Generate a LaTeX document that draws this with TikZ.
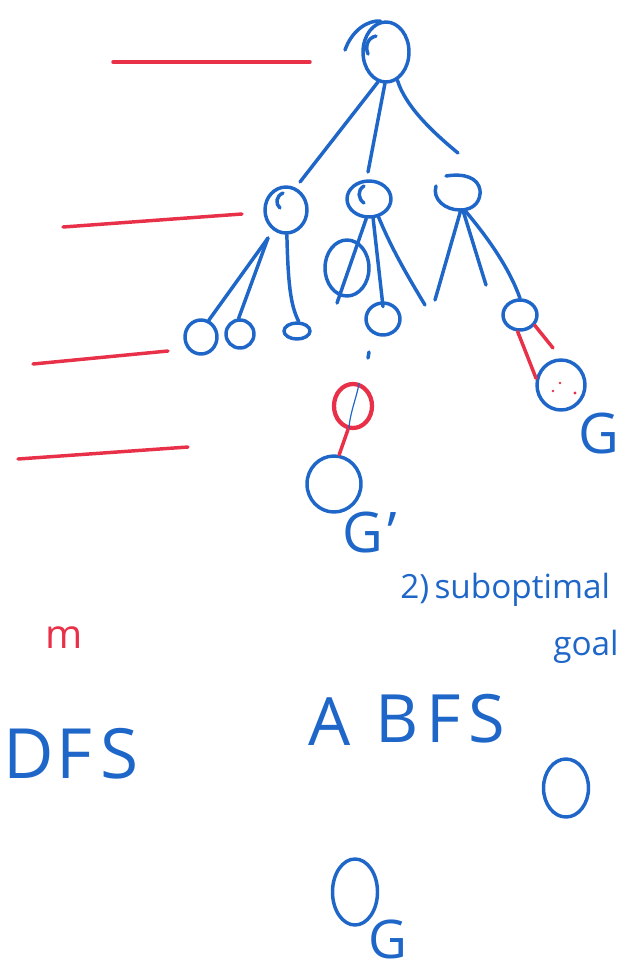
\documentclass[tikz,border=0pt]{standalone}
\usepackage{fontspec}
\setmainfont{Open Sans}
\usetikzlibrary{shapes.geometric}
\definecolor{ink}{RGB}{30,102,200}
\definecolor{redink}{RGB}{232,48,72}
\newcommand{\hw}[1]{\fontsize{#1}{#1}\selectfont}

\begin{document}
\begin{tikzpicture}[x=0.75pt,y=-0.75pt,
  pen/.style={draw=ink, line width=2.6pt, line cap=round, line join=round},
  redpen/.style={draw=redink, line width=2.6pt, line cap=round, line join=round},
  vert/.style 2 args={ellipse, pen, minimum width=#1*0.75pt, minimum height=#2*0.75pt, inner sep=0pt},
  redvert/.style 2 args={ellipse, redpen, line width=3.2pt, minimum width=#1*0.75pt, minimum height=#2*0.75pt, inner sep=0pt},
  hole/.style 2 args={ellipse, minimum width=#1*0.75pt, minimum height=#2*0.75pt, inner sep=0pt},
  lbl/.style={text=ink, inner sep=0pt, anchor=base west},
]
\useasboundingbox (0,0) rectangle (621,972);
\clip (0,0) rectangle (621,972);

% level marks
\draw[redpen] (113,62) -- (310,62);
\draw[redpen] (63,227) -- (242,214);
\draw[redpen] (33,364) -- (168,351);
\draw[redpen] (18,459) -- (188,447);

% tree vertices
\node[vert={46}{60}] (root) at (386,52) {};
\node[vert={42}{46}] (a) at (286,210) {};
\node[vert={44}{36}] (b) at (369,199) {};
\node[hole={46}{36}] (c) at (457,192) {};
\node[vert={32}{34}] (a1) at (201,337) {};
\node[vert={28}{28}] (a2) at (240,334) {};
\node[vert={26}{16}] (a3) at (297,331) {};
\node[vert={44}{56}] (bx) at (347,268) {};
\node[vert={34}{32}] (b1) at (383,319) {};
\node[vert={34}{30}] (c1) at (520,315) {};
\node[vert={48}{50}] (G) at (561,385) {};
\node[redvert={38}{44}] (r) at (353,406) {};
\node[vert={54}{56}] (Gp) at (334,484) {};
\node[vert={45}{58}] (o1) at (566,788) {};
\node[vert={45}{66}] (o2) at (355,892) {};

% pen strokes of the drawn vertices
\draw[pen] (345,50) .. controls (352,30) and (368,20) .. (root.100);
\draw[pen] (376,36) .. controls (367,38) and (365,47) .. (368,54);
\draw[pen] (283,193) .. controls (276,196) and (275,204) .. (280,208);
\draw[pen] (364,186) .. controls (357,190) and (358,199) .. (364,203);
\draw[pen] (436,186) .. controls (432,199) and (445,210) .. (460,210)
  .. controls (475,210) and (481,200) .. (480,190)
  .. controls (478,178) and (465,173) .. (446,176);

% free ends of strokes
\coordinate (ta) at (300,182);
\coordinate (tb) at (368,172);
\coordinate (tc) at (458,153);
\coordinate (av) at (268,238);
\coordinate (bx1) at (337,303);
\coordinate (bx2) at (425,305);
\coordinate (cx1) at (435,300);
\coordinate (cx2) at (486,285);
\coordinate (rx) at (553,348);
\coordinate (tick) at (369,352);

% edges
\draw[pen] (root.255) -- (ta);
\draw[pen] (root.268) -- (tb);
\draw[pen] (root.292) .. controls (405,105) and (430,130) .. (tc);
\draw[pen] (av) -- (a1.65);
\draw[pen] (av) -- (a2.95);
\draw[pen] (a.272) .. controls (288,280) and (290,305) .. (a3.80);
\draw[pen] (b.262) -- (bx1);
\draw[pen] (b.282) -- ([yshift=-4pt]b1.north);
\draw[pen] (b.298) .. controls (392,250) and (410,280) .. (bx2);
\draw[pen] (c.282) -- (cx1);
\draw[pen] (c.288) -- (cx2);
\draw[pen] (c.292) .. controls (490,240) and (510,270) .. (c1.north);
\draw[redpen] (c1.325) -- (rx);
\draw[redpen] (c1.262) -- (G.165);
\draw[pen] (tick) -- ++(-1,6);
\draw[draw=ink, line width=0.9pt] (r.75) .. controls (356,400) and (350,412) .. (r.260);
\draw[redpen] (r.258) -- (Gp.80);

% red dots in G
\fill[redink] (560,383) circle (1.4) (553,391) circle (1.4) (575,393) circle (1.6);

% labels
\node[lbl] (gl) at (578,453) {\hw{42}G};
\node[lbl] (gpl) at (342,552) {\hw{42}G\hspace{3pt}'};
\node[lbl] (sub) at (400,598) {\hw{25}2)\hspace{4pt}suboptimal};
\node[lbl] (goal) at (553,655) {\hw{25}goal};
\node[lbl, text=redink] (m) at (45,648) {\hw{30}m};
\node[lbl] (dfs) at (3,778) {\hw{52}D\hspace{2pt}F\hspace{6pt}S};
\node[lbl] (a0) at (308,745) {\hw{50}A};
\node[lbl] (bfs) at (375,742) {\hw{50}B\hspace{6pt}F\hspace{6pt}S};
\node[lbl] (gb) at (368,958) {\hw{40}G};
\end{tikzpicture}
\end{document}
